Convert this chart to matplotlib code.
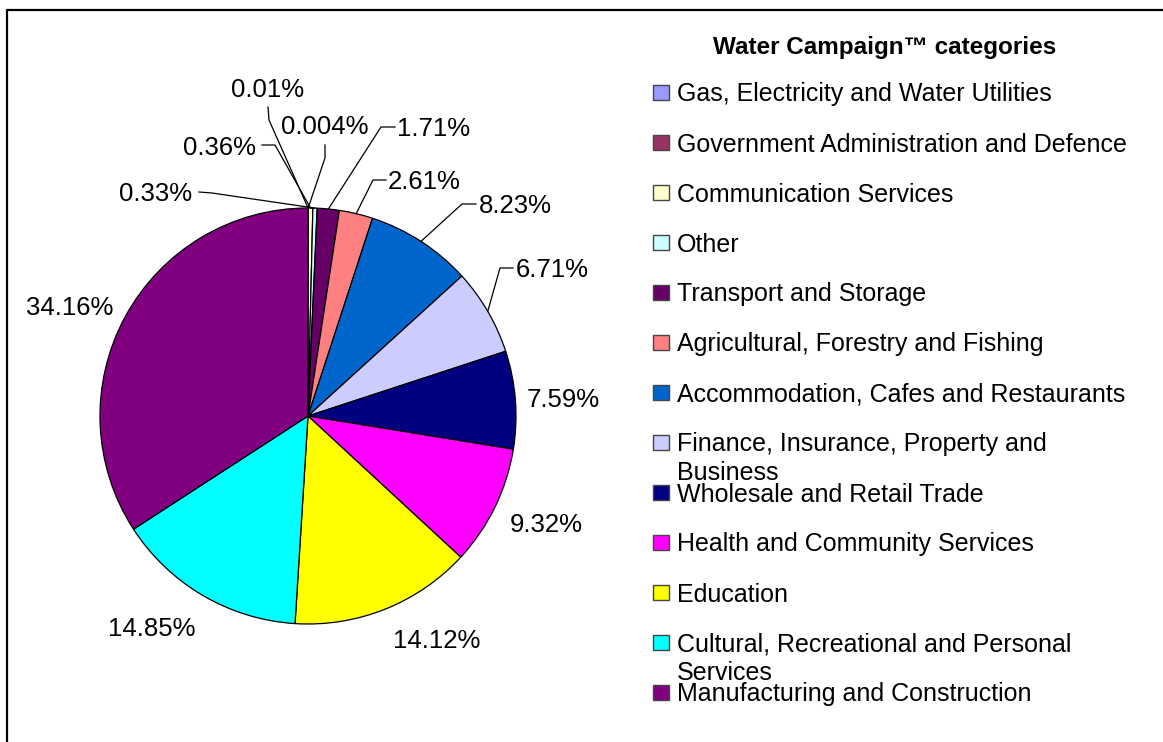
import numpy as np
import matplotlib.pyplot as plt

plt.rcParams['font.family'] = ['Liberation Sans', 'DejaVu Sans']

# share of water campaign participants per industry (percent)
categories = [
    'Gas, Electricity and Water Utilities',
    'Government Administration and Defence',
    'Communication Services',
    'Other',
    'Transport and Storage',
    'Agricultural, Forestry and Fishing',
    'Accommodation, Cafes and Restaurants',
    'Finance, Insurance, Property and\nBusiness',
    'Wholesale and Retail Trade',
    'Health and Community Services',
    'Education',
    'Cultural, Recreational and Personal\nServices',
    'Manufacturing and Construction',
]
shares = [0.01, 0.004, 0.36, 0.33, 1.71, 2.61, 8.23, 6.71, 7.59, 9.32, 14.12, 14.85, 34.16]
colors = ['#9999FF', '#993366', '#FFFFCC', '#CCFFFF', '#660066', '#FF8080', '#0066CC',
          '#CCCCFF', '#000080', '#FF00FF', '#FFFF00', '#00FFFF', '#800080']

# label anchor in pixels (origin top-left): x centre, text baseline
label_pos = [(268, 97), (325, 134), (220, 155), (156, 201), (434, 136), (424, 189),
             (515, 213), (552, 277), (563, 407), (546, 532), (437, 648), (152, 636), (70, 315)]
# leader line: point next to the text, then the knee before it runs to the slice
leader = [((268, 107), (269, 120)), ((325, 145), (325, 158)), ((262, 145), (275, 145)),
          ((199, 192), (212, 193)), ((395, 127), (381, 127)), ((386, 180), (373, 180)),
          ((476, 204), (462, 204)), ((513, 268), (500, 268)),
          None, None, None, None, None]

W, H = 1163, 742
cx, cy, r = 308, 416, 208


def Y(y):
    return H - y


fig = plt.figure(figsize=(W / 100, H / 100), dpi=100)
ax = fig.add_axes([0, 0, 1, 1])

wedges, _ = ax.pie(shares, colors=colors, startangle=90, counterclock=False,
                   radius=r, center=(cx, Y(cy)),
                   wedgeprops=dict(edgecolor='black', linewidth=0.9))

for w, v, (lx, ly), ld in zip(wedges, shares, label_pos, leader):
    ax.text(lx, Y(ly), f'{v:g}%', ha='center', va='baseline', fontsize=18.5)
    if ld is None:
        continue
    mid = np.deg2rad((w.theta1 + w.theta2) / 2)
    ex, ey = cx + r * np.cos(mid), Y(cy) + r * np.sin(mid)
    (ax0, ay0), (kx, ky) = ld
    ax.plot([ax0, kx, ex], [Y(ay0), Y(ky), ey], color='black', lw=0.9)

# legend
ax.text(885, Y(54), 'Water Campaign™ categories', ha='center', va='baseline',
        fontsize=17.5, fontweight='bold')
for i, (name, c) in enumerate(zip(categories, colors)):
    y0 = 92.5 + 50 * i
    ax.add_patch(plt.Rectangle((653, Y(y0) - 7.5), 16, 15, facecolor=c,
                               edgecolor='#444444', lw=1))
    for k, line in enumerate(name.split('\n')):
        ax.text(677, Y(y0 + 9 + 28 * k), line, ha='left', va='baseline', fontsize=18)

# chart frame
ax.plot([7, 7, W + 5], [-5, Y(9.5), Y(9.5)], color='black', lw=1.6)

ax.set_xlim(0, W)
ax.set_ylim(0, H)
ax.set_aspect('equal')
ax.axis('off')

fig.savefig('out.png', dpi=100)
